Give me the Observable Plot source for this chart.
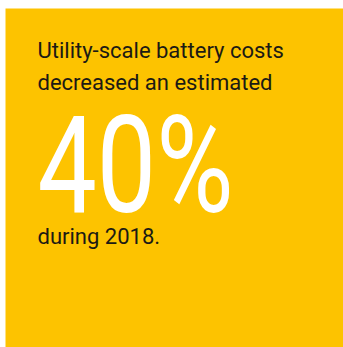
<!DOCTYPE html>
<html>
<head>
<meta charset="utf-8">
<script src="https://cdn.jsdelivr.net/npm/d3@7"></script>
<script src="https://cdn.jsdelivr.net/npm/@observablehq/plot@0.6"></script>
<style>
  html, body { margin: 0; padding: 0; background: #ffffff; }
  #chart svg { display: block; }
</style>
</head>
<body>
<div id="chart"></div>
<script>
const headlineLines = ["Utility-scale battery costs", "decreased an estimated"];
const statValue = ["40%"];
const footerLines = ["during 2018."];

const panelFill = "#fdc300";
const inkColor = "#1c1a14";

const lineText = (data, dy) => Plot.text(data, {
  text: d => d,
  frameAnchor: "top-left",
  textAnchor: "start",
  lineAnchor: "bottom",
  dx: 32,
  dy,
  fontSize: 22,
  fill: inkColor
});

const plot = Plot.plot({
  width: 343,
  height: 347,
  marginLeft: 5,
  marginTop: 8,
  marginRight: 0,
  marginBottom: 0,
  style: { background: "#ffffff", fontFamily: "Roboto, 'Noto Sans', sans-serif" },
  x: { axis: null },
  y: { axis: null },
  marks: [
    Plot.frame({ fill: panelFill, stroke: "none" }),
    lineText([headlineLines[0]], 49),
    lineText([headlineLines[1]], 81.5),
    Plot.text(statValue, {
      text: d => d,
      frameAnchor: "top-left",
      textAnchor: "start",
      lineAnchor: "bottom",
      dx: 32,
      dy: 203.5,
      fontSize: 136,
      fontWeight: 400,
      fill: "#ffffff",
      className: "stat"
    }),
    lineText(footerLines, 235.5)
  ]
});

document.getElementById("chart").append(plot);
d3.select(plot).selectAll(".stat text")
  .attr("textLength", 196)
  .attr("lengthAdjust", "spacingAndGlyphs");
</script>
</body>
</html>
